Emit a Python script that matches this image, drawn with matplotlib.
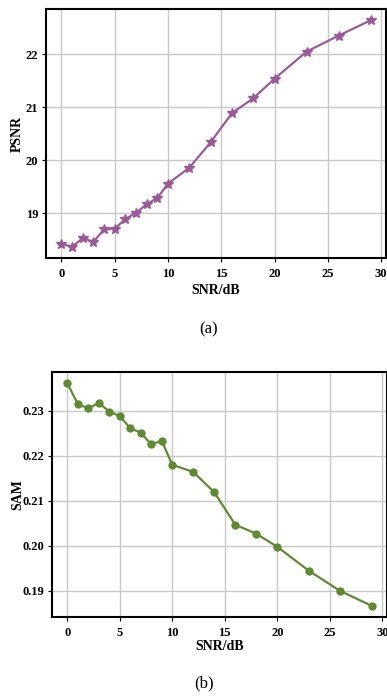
import matplotlib.pyplot as plt

plt.rcParams['font.family'] = ['Liberation Serif', 'DejaVu Serif']

snr = [0, 1, 2, 3, 4, 5, 6, 7, 8, 9, 10, 12, 14, 16, 18, 20, 23, 26, 29]
psnr = [18.42, 18.37, 18.53, 18.46, 18.70, 18.71, 18.89, 19.01, 19.17, 19.29,
        19.56, 19.86, 20.34, 20.89, 21.17, 21.54, 22.05, 22.35, 22.64]
sam = [0.2361, 0.2315, 0.2305, 0.2317, 0.2298, 0.2288, 0.2261, 0.2251, 0.2225, 0.2233,
       0.2180, 0.2164, 0.2119, 0.2047, 0.2027, 0.1998, 0.1945, 0.1900, 0.1867]

W, H = 387, 696
fig = plt.figure(figsize=(W / 100, H / 100), dpi=100)


def px_axes(left, top, right, bottom):
    return fig.add_axes([left / W, 1 - bottom / H, (right - left) / W, (bottom - top) / H])


def style(ax, ylabel, xlab_y, ylab_x):
    ax.grid(True, color='#c8c8c8', linewidth=1.0)
    ax.set_axisbelow(True)
    for s in ax.spines.values():
        s.set_linewidth(1.5)
        s.set_color('black')
    ax.set_xticks([0, 5, 10, 15, 20, 25, 30])
    ax.tick_params(labelsize=9, width=0.8, length=3)
    ax.tick_params(axis='x', pad=4.5)
    ax.tick_params(axis='y', pad=2.5)
    for lab in ax.get_xticklabels() + ax.get_yticklabels():
        lab.set_fontweight('bold')
    ax.set_xlabel('SNR/dB', fontsize=10, fontweight='bold', va='center')
    ax.set_ylabel(ylabel, fontsize=10, fontweight='bold', va='center')
    ax.xaxis.set_label_coords(0.5, xlab_y)
    ax.yaxis.set_label_coords(ylab_x, 0.5)


ax1 = px_axes(46, 9, 386, 258)
ax1.plot(snr, psnr, color='#9a5a98', marker='*', markersize=7, linewidth=1.6)
ax1.set_xlim(-1.45, 30.45)
ax1.set_yticks([19, 20, 21, 22])
style(ax1, 'PSNR', -0.13, -0.084)

ax2 = px_axes(52, 372, 387, 617)
ax2.plot(snr, sam, color='#5f8a32', marker='o', markersize=5, linewidth=1.6)
ax2.set_xlim(-1.45, 30.45)
ax2.set_yticks([0.19, 0.20, 0.21, 0.22, 0.23])
ax2.set_yticklabels(['0.19', '0.20', '0.21', '0.22', '0.23'])
style(ax2, 'SAM', -0.12, -0.1015)

fig.text(209 / W, 1 - 329 / H, '(a)', fontsize=12, ha='center', va='center')
fig.text(204 / W, 1 - 683 / H, '(b)', fontsize=12, ha='center', va='center')

fig.savefig('out.png', dpi=100)
